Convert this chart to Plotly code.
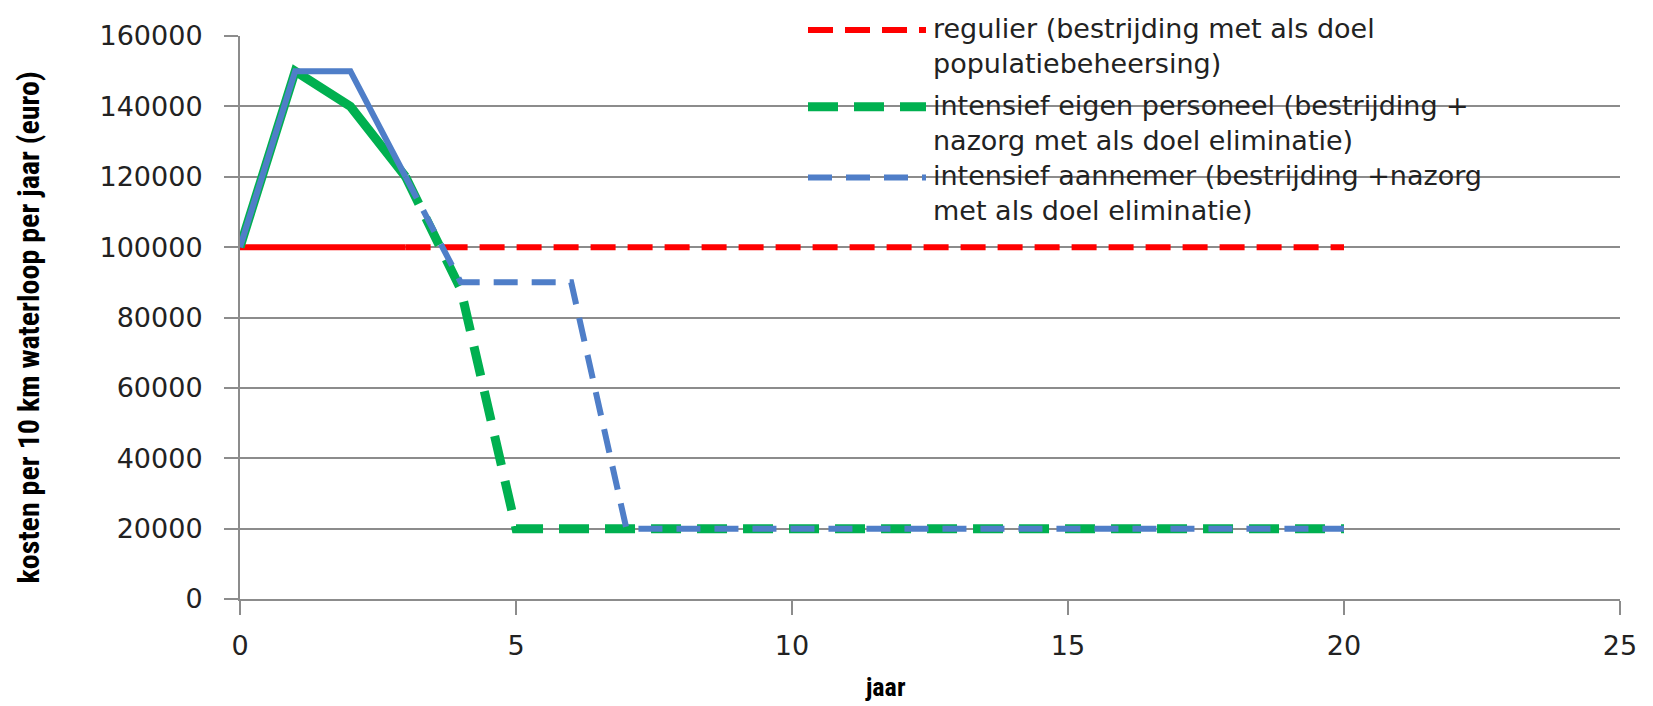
import plotly.graph_objects as go

# ---- data ----
years = [0, 1, 2, 3, 4, 5, 6, 7, 8, 9, 10, 11, 12, 13, 14, 15, 16, 17, 18, 19, 20]
regulier = [100000, 100000, 100000, 100000, 100000, 100000, 100000, 100000, 100000, 100000,
            100000, 100000, 100000, 100000, 100000, 100000, 100000, 100000, 100000, 100000, 100000]
eigen_personeel = [100000, 150000, 140000, 120000, 88000, 20000, 20000, 20000, 20000, 20000,
                   20000, 20000, 20000, 20000, 20000, 20000, 20000, 20000, 20000, 20000, 20000]
aannemer = [100000, 150000, 150000, 120000, 90000, 90000, 90000, 20000, 20000, 20000,
            20000, 20000, 20000, 20000, 20000, 20000, 20000, 20000, 20000, 20000, 20000]
solid_until = 3  # first segments (years 0..3) drawn solid

legend_labels = [
    "regulier (bestrijding met als doel<br>populatiebeheersing)",
    "intensief eigen personeel (bestrijding +<br>nazorg met als doel eliminatie)",
    "intensief aannemer (bestrijding +nazorg<br>met als doel eliminatie)",
]
y_ticks = [0, 20000, 40000, 60000, 80000, 100000, 120000, 140000, 160000]
x_ticks = [0, 5, 10, 15, 20, 25]

RED = "#FF0000"
GREEN = "#00B050"
BLUE = "#4F7EC8"

series = [
    (regulier, RED, 6, "25px,12px"),
    (eigen_personeel, GREEN, 9, "30px,16px"),
    (aannemer, BLUE, 6, "24px,14px"),
]

# page offset of 8px (browser body margin) is compensated below
OFF = 8
W = 1653 - OFF
H = 706 - OFF
L, R, T, B = 240 - OFF, 33, 26 - OFF, 107
ph = H - T - B
pw = W - L - R

fig = go.Figure()
for vals, col, w, dash in series:
    k = years.index(solid_until)
    fig.add_trace(go.Scatter(x=years[:k + 1], y=vals[:k + 1], mode="lines",
                             line=dict(color=col, width=w), showlegend=False))
    fig.add_trace(go.Scatter(x=years[k:], y=vals[k:], mode="lines",
                             line=dict(color=col, width=w, dash=dash), showlegend=False))

# custom legend (swatches + text), page pixel rows
leg_y = [20, 98, 170]
for (vals, col, w, dash), lab, yy in zip(series, legend_labels, leg_y):
    yp = 1 - (yy - OFF - T) / ph
    fig.add_shape(type="line", xref="paper", yref="paper",
                  x0=(808 - OFF - L) / pw, x1=(926 - OFF - L) / pw, y0=yp, y1=yp,
                  line=dict(color=col, width=w, dash=dash))
    fig.add_annotation(xref="paper", yref="paper", x=(931 - OFF - L) / pw, y=yp,
                       xanchor="left", yanchor="top", yshift=19,
                       text=lab, showarrow=False, align="left",
                       font=dict(family="DejaVu Sans", size=27, color="#222222"))

fig.add_annotation(xref="paper", yref="paper", x=0, y=0.5, xshift=-(240 - 28), yshift=-10,
                   text="<b>kosten per 10 km waterloop per jaar (euro)</b>", textangle=-90,
                   showarrow=False, xanchor="center", yanchor="middle",
                   font=dict(family="Liberation Sans Narrow, Roboto Condensed, Roboto, sans-serif",
                             size=30, color="#000000"))
fig.add_annotation(xref="paper", yref="paper", x=(885 - 240) / pw, y=0, yshift=-(687 - 599),
                   text="<b>jaar</b>", showarrow=False, xanchor="center", yanchor="middle",
                   font=dict(family="Liberation Sans Narrow, Roboto Condensed, Roboto, sans-serif",
                             size=26, color="#000000"))

fig.update_layout(
    width=W, height=H, margin=dict(l=L, r=R, t=T, b=B),
    paper_bgcolor="white", plot_bgcolor="white", showlegend=False,
)
fig.update_xaxes(range=[0, 25], tickvals=x_ticks, showgrid=False, zeroline=False,
                 showline=True, linecolor="#8c8c8c", linewidth=2,
                 ticks="outside", ticklen=14, tickcolor="#8c8c8c", tickwidth=1.5,
                 ticklabelstandoff=8,
                 tickfont=dict(family="DejaVu Sans", size=27, color="#222222"))
fig.update_yaxes(range=[0, 160000], tickvals=y_ticks, tickformat="d",
                 showgrid=True, gridcolor="#8c8c8c", gridwidth=2,
                 zeroline=False, showline=True, linecolor="#8c8c8c", linewidth=2,
                 ticks="outside", ticklen=14, tickcolor="#8c8c8c", tickwidth=2,
                 ticklabelstandoff=16,
                 tickfont=dict(family="DejaVu Sans", size=27, color="#222222"))

fig.write_html("out.html")
